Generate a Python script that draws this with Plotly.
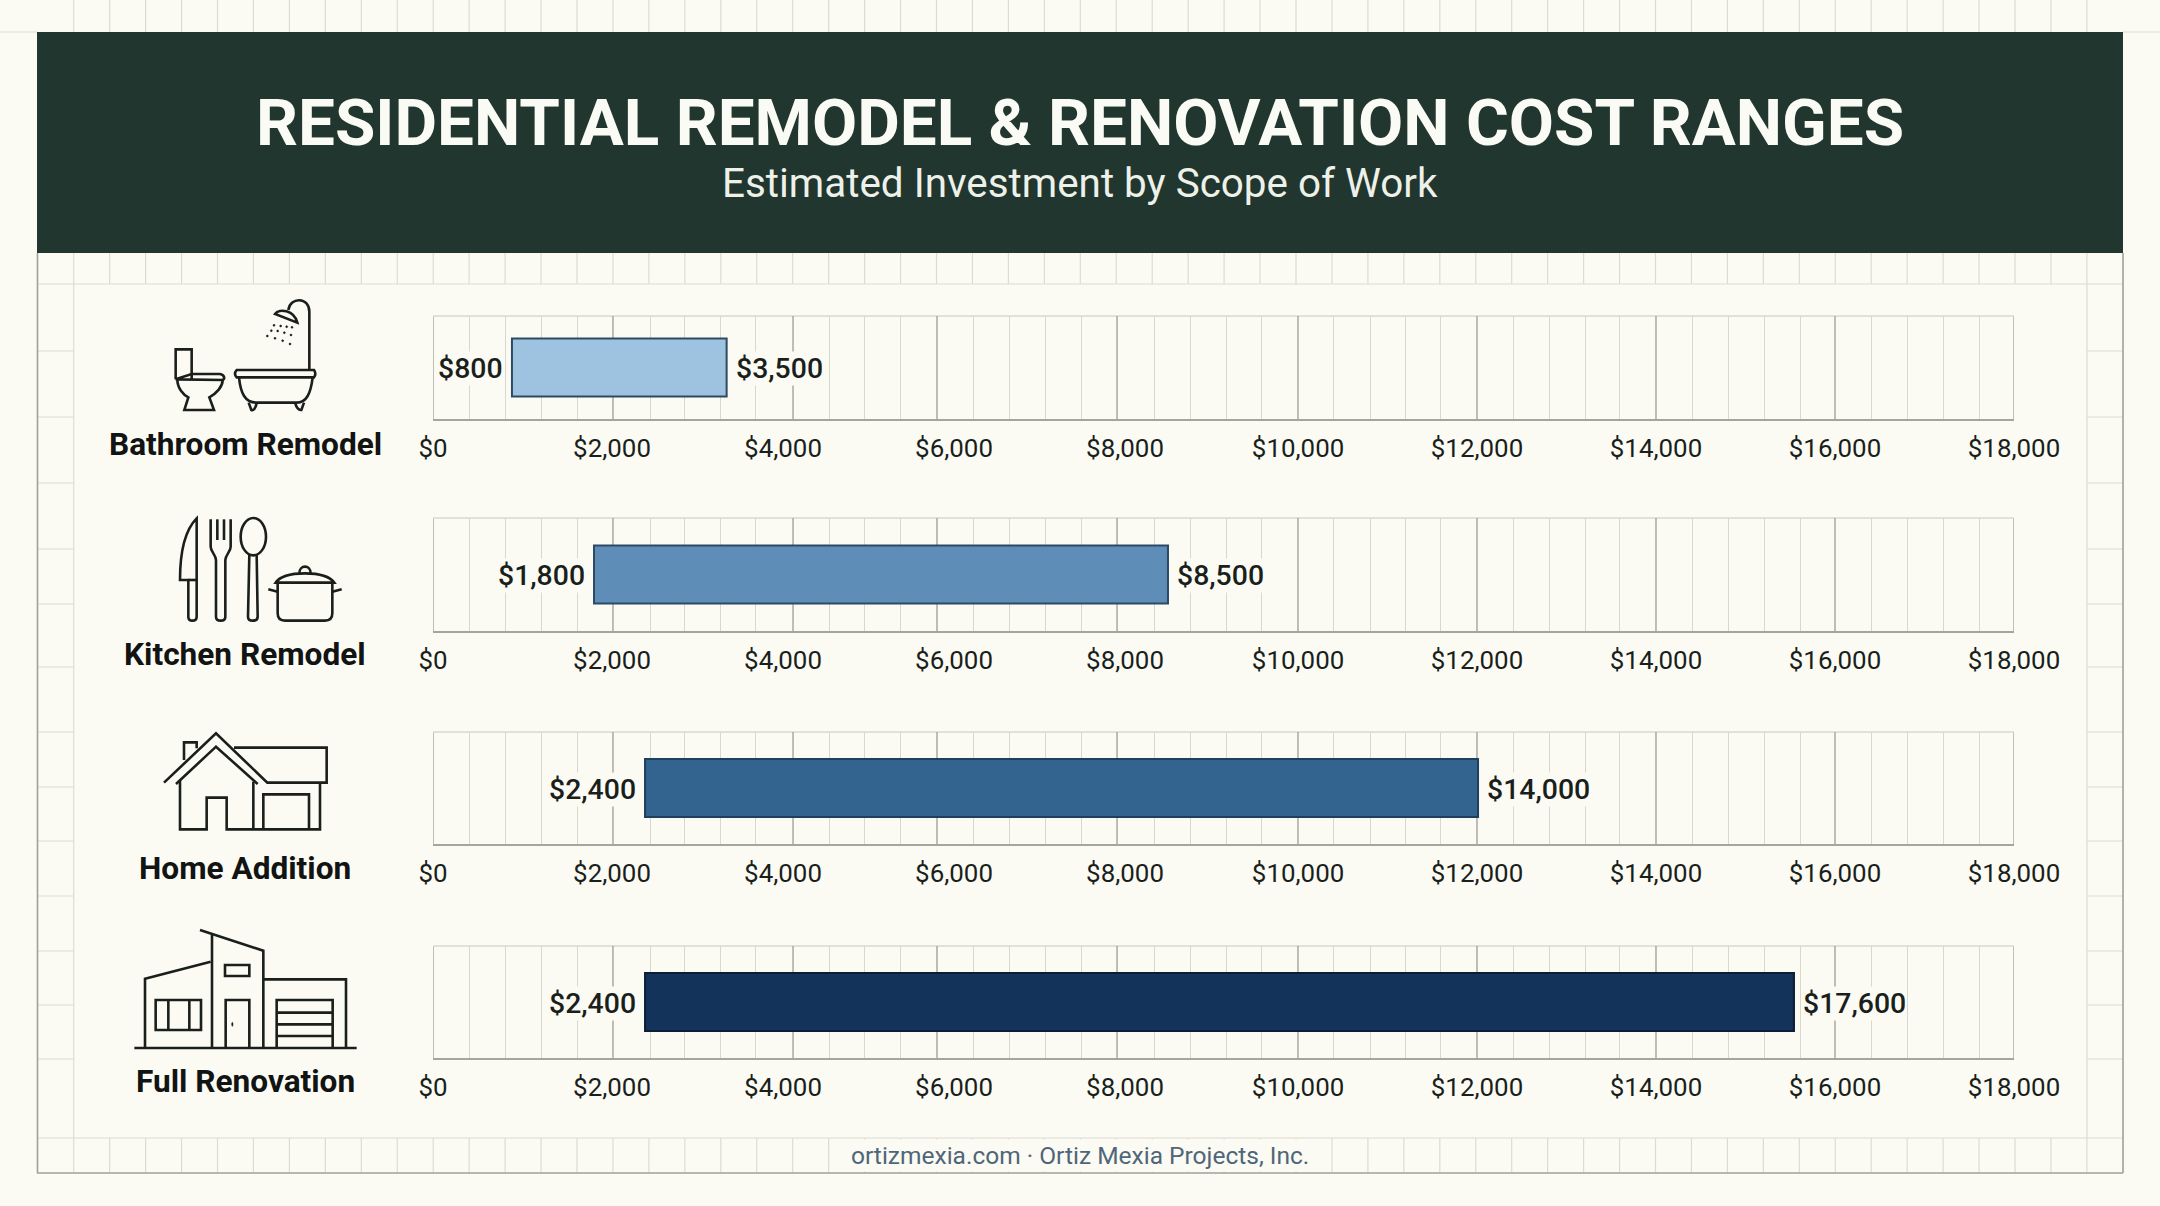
import re
import plotly.graph_objects as go

# ---- data as printed in the picture ----
scopes = ["Bathroom Remodel", "Kitchen Remodel", "Home Addition", "Full Renovation"]
label_low = ["$800", "$1,800", "$2,400", "$2,400"]
label_high = ["$3,500", "$8,500", "$14,000", "$17,600"]
tick_labels = ["$0", "$2,000", "$4,000", "$6,000", "$8,000", "$10,000", "$12,000", "$14,000", "$16,000", "$18,000"]
# where the picture draws things, read off as axis units (the source axis is uneven
# and its bars do not line up with their printed labels)
bar_start = [899, 1833, 2414, 2414]
bar_end = [3343, 8368, 11898, 15495]
tick_label_at = [0, 2038, 3985, 5932, 7879, 9849, 11886, 13924, 15962, 18000]
major_grid = [2049, 4099, 5738, 7788, 9848, 11886, 13924, 15962]
minor_grid = [410, 820, 1230, 1640, 2471, 2869, 3268, 3677, 4509, 4918, 5328, 6148, 6569, 6968, 7378,
              8209, 8619, 9029, 9438, 10258, 10668, 11067, 11476, 12296, 12706, 13116, 13514, 14335,
              14745, 15154, 15564, 16376, 16786, 17196, 17602]
bar_colors = ["#9DC3E1", "#5E8DB8", "#336490", "#14335A"]
bar_edges = ["#2F4A60", "#2C4A66", "#1F3F5E", "#0B1F38"]

# ---- layout constants (pixels) ----
W, H = 2160, 1206
PAPER = "#FBFBF4"
GRID_BG = "#DCDCD2"
INK = "#1A1F1C"
PLOT_L, PLOT_R = 433, 2014
panel_tops = [316, 518, 732, 946]
panel_bottoms = [419, 631, 844, 1058]
bar_px = [58, 58, 58, 58]
name_y = [444, 654, 868, 1081]


def px(x):
    return x / W


def py(y):
    return 1 - y / H


def rect(x0, y0, x1, y1, fill=None, line=None, lw=1, layer="below"):
    return dict(type="rect", xref="paper", yref="paper", x0=px(x0), x1=px(x1), y0=py(y0), y1=py(y1),
                fillcolor=fill or "rgba(0,0,0,0)", line=dict(color=line or "rgba(0,0,0,0)", width=lw if line else 0),
                layer=layer)


def seg(x0, y0, x1, y1, color=GRID_BG, lw=1.2):
    return dict(type="line", xref="paper", yref="paper", x0=px(x0), x1=px(x1), y0=py(y0), y1=py(y1),
                line=dict(color=color, width=lw), layer="below")


shapes = []
# graph-paper background
for k in range(0, 57):
    x = 73.7 + 35.95 * k
    shapes.append(seg(x, 0, x, 32))
    shapes.append(seg(x, 253, x, 284))
    shapes.append(seg(x, 1138, x, 1173))
for y in [351, 417, 483, 549, 604, 667, 732, 787, 841, 896, 951, 1005, 1059]:
    shapes.append(seg(37, y, 73.7, y))
    shapes.append(seg(2087, y, 2123, y))
shapes.append(seg(73.7, 284, 73.7, 1138))
shapes.append(seg(2087, 284, 2087, 1138))
shapes.append(seg(37, 284, 2123, 284))
shapes.append(seg(37, 1138, 2123, 1138))
shapes.append(seg(0, 32, 37, 32))
shapes.append(seg(2123, 32, 2160, 32))
# outer frame and title band
shapes.append(seg(37.5, 253, 37.5, 1173, "#A0A098", 1.6))
shapes.append(seg(2123, 253, 2123, 1173, "#A0A098", 1.6))
shapes.append(seg(37, 1173, 2123, 1173, "#A0A098", 1.6))
shapes.append(rect(37, 32, 2123, 253, fill="#21362E"))


# ---- icons, traced in crop coordinates of the picture ----
def icon(d, ox, oy, fill=None, lw=2.6):
    toks = re.findall(r"[MLCQZ]|-?\d+\.?\d*", d)
    out, i = [], 0
    while i < len(toks):
        t = toks[i]
        if t in "MLCQZ":
            out.append(t)
            i += 1
        else:
            xv = ox + float(toks[i]) / 3
            yv = oy + float(toks[i + 1]) / 3
            out.append(f"{px(xv):.6f},{py(yv):.6f}")
            i += 2
    return dict(type="path", xref="paper", yref="paper", path=" ".join(out),
                line=dict(color=INK, width=lw), fillcolor=fill or "rgba(0,0,0,0)", layer="above")


def ell(cx, cy, rx, ry):
    k = 0.5523
    return (f"M{cx - rx},{cy} C{cx - rx},{cy - k * ry} {cx - k * rx},{cy - ry} {cx},{cy - ry} "
            f"C{cx + k * rx},{cy - ry} {cx + rx},{cy - k * ry} {cx + rx},{cy} "
            f"C{cx + rx},{cy + k * ry} {cx + k * rx},{cy + ry} {cx},{cy + ry} "
            f"C{cx - k * rx},{cy + ry} {cx - rx},{cy + k * ry} {cx - rx},{cy} Z")


BATH = [
    "M257,298 L257,208 L305,208 L305,298",
    "M257,298 L305,282 L390,282 C403,284 406,296 398,300 L262,298 Z",
    "M262,298 C262,325 280,345 295,352 L283,390 L372,390 L358,352 C380,340 398,320 398,300",
    "M440,270 L672,270 Q680,281 672,292 L440,292 Q430,281 440,270 Z",
    "M447,292 C452,340 465,368 500,368 L620,368 C650,368 662,340 668,292",
    "M476,368 L484,390 Q494,394 500,370",
    "M615,368 Q622,392 634,390 L642,368",
    "M658,270 L658,95 C658,50 600,50 595,90",
    "M555,102 C568,84 612,90 622,128 Z",
]
BATH_DOTS = [(552, 136), (572, 138), (590, 140), (606, 142), (544, 152), (563, 153), (583, 158), (603, 165),
             (532, 168), (555, 175), (578, 182), (600, 192)]
KITCHEN = [
    "M320,715 C290,745 270,800 270,900 L295,900 L295,1010 Q295,1022 307,1022 Q320,1022 320,1010 L320,715 Z",
    "M295,900 L320,900",
    "M362,718 L362,800 C362,815 378,825 378,840 L378,1010 Q378,1022 392,1022 Q406,1022 406,1010 L406,840 "
    "C406,825 422,815 422,800 L422,718",
    "M382,718 L382,780", "M402,718 L402,780",
    ell(490, 770, 38, 56),
    "M478,825 L474,1010 Q474,1022 488,1022 Q503,1022 503,1010 L500,825",
    "M563,908 L563,1000 Q563,1022 585,1022 L705,1022 Q727,1022 727,1000 L727,908",
    "M557,908 C570,888 600,880 645,880 C690,880 720,890 733,908 Z",
    "M628,880 C628,853 662,853 662,880",
    "M535,928 L563,935", "M727,935 L755,928",
]
HOME = [
    "M222,248 L378,100 L532,248 L710,248 L710,143 L432,143",
    "M258,252 L378,140 L503,252",
    "M282,180 L282,127 L320,127 L320,145",
    "M270,240 L270,388 L350,388 L350,293 L410,293 L410,388 L690,388 L690,250",
    "M490,245 L490,388",
    "M520,388 L520,283 L657,283 L657,388",
]
FULL = [
    "M133,1044 L800,1044",
    "M165,1044 L165,836 L362,785",
    "M330,690 L520,752 L520,1044",
    "M366,705 L366,1044",
    "M520,838 L768,838 L768,1044",
    "M405,795 L478,795 L478,828 L405,828 Z",
    "M407,1044 L407,900 L478,900 L478,1044",
    "M197,900 L333,900 L333,990 L197,990 Z",
    "M235,900 L235,990", "M298,900 L298,990",
    "M560,1044 L560,900 L728,900 L728,1044",
    "M560,938 L728,938", "M560,973 L728,973", "M560,1008 L728,1008",
]
for d in BATH + KITCHEN:
    shapes.append(icon(d, 90, 280))
for cx, cy in BATH_DOTS:
    shapes.append(icon(ell(cx, cy, 3, 3), 90, 280, fill=INK, lw=0.5))
for d in HOME + FULL:
    shapes.append(icon(d, 90, 700))
shapes.append(icon(ell(427, 973, 2, 6), 90, 700, fill=INK, lw=0.5))

fig = go.Figure()
annotations = []
axes = {}
for i in range(4):
    n = "" if i == 0 else str(i + 1)
    top, bot = panel_tops[i], panel_bottoms[i]
    fig.add_trace(go.Bar(
        y=[scopes[i]], x=[bar_end[i] - bar_start[i]], base=[bar_start[i]], orientation="h",
        width=bar_px[i] / (bot - top),
        marker=dict(color=bar_colors[i], line=dict(color=bar_edges[i], width=2)),
        xaxis=f"x{n}", yaxis=f"y{n}", showlegend=False, hoverinfo="skip"))
    axes[f"xaxis{n}"] = dict(
        domain=[px(PLOT_L), px(PLOT_R)], range=[0, 18000], anchor=f"y{n}", automargin=False,
        tickmode="array", tickvals=tick_label_at, ticktext=tick_labels,
        tickfont=dict(family="Roboto", size=25.9, color=INK), ticklabelstandoff=5,
        ticks="", showgrid=False, zeroline=False, showline=True, linecolor="#A5A59D", linewidth=2,
        mirror=False,
        minor=dict(tickmode="array", tickvals=minor_grid, showgrid=True, gridcolor="#D8D8CE", gridwidth=1.2, ticks=""),
    )
    axes[f"yaxis{n}"] = dict(
        domain=[py(bot), py(top)], anchor=f"x{n}", type="category", range=[-0.5, 0.5], automargin=False,
        showticklabels=False, ticks="", showgrid=False, zeroline=False, showline=False)
    # panel frame and darker grid lines
    for v in [0, 18000]:
        shapes.append(dict(type="line", xref=f"x{n}", yref=f"y{n} domain", x0=v, x1=v, y0=0, y1=1,
                           line=dict(color="#ABABA3", width=1.5), layer="below"))
    shapes.append(dict(type="line", xref=f"x{n}", yref=f"y{n} domain", x0=0, x1=18000, y0=1, y1=1,
                       line=dict(color="#D8D8CE", width=1.5), layer="below"))
    for v in major_grid:
        shapes.append(dict(type="line", xref=f"x{n}", yref=f"y{n} domain", x0=v, x1=v, y0=0, y1=1,
                           line=dict(color="#9C9C94", width=1.3), layer="below"))
    # value labels
    for xv, txt, anchor, shift in [(bar_start[i], label_low[i], "right", -8), (bar_end[i], label_high[i], "left", 8)]:
        annotations.append(dict(x=xv, y=0.5, xref=f"x{n}", yref=f"y{n} domain", text=txt, showarrow=False,
                                xanchor=anchor, xshift=shift, yshift=-1, yanchor="middle",
                                font=dict(family="Roboto", size=28.4, color=INK, weight=500), bgcolor=PAPER, borderpad=0))
    # scope name
    annotations.append(dict(x=px(245), y=py(name_y[i]), xref="paper", yref="paper", text=f"<b>{scopes[i]}</b>",
                            showarrow=False, font=dict(family="Roboto", size=31.6, color="#111412"),
                            xanchor="center", yanchor="middle"))

annotations += [
    dict(x=px(1080), y=py(122.5), xref="paper", yref="paper", text="<b>RESIDENTIAL REMODEL &amp; RENOVATION COST RANGES</b>",
         showarrow=False, font=dict(family="Roboto", size=65.6, color="#FAFBF5"), xanchor="center", yanchor="middle"),
    dict(x=px(1080), y=py(184), xref="paper", yref="paper", text="Estimated Investment by Scope of Work",
         showarrow=False, font=dict(family="Roboto", size=40.4, color="#EEF1EA"), xanchor="center", yanchor="middle"),
    dict(x=px(1080), y=py(1155), xref="paper", yref="paper", text="ortizmexia.com · Ortiz Mexia Projects, Inc.",
         showarrow=False, font=dict(family="Roboto", size=24.5, color="#4F6679"), xanchor="center", yanchor="middle",
         bgcolor=PAPER, borderpad=1),
]

fig.update_layout(width=W, height=H, margin=dict(l=0, r=0, t=0, b=0, autoexpand=False), autosize=False,
                  paper_bgcolor=PAPER, plot_bgcolor="rgba(0,0,0,0)", shapes=shapes, annotations=annotations,
                  barmode="overlay", showlegend=False, **axes)
fig.write_html("out.html", post_script="document.body.style.margin='0';document.documentElement.style.overflow='hidden';",
               config={"displayModeBar": False})
